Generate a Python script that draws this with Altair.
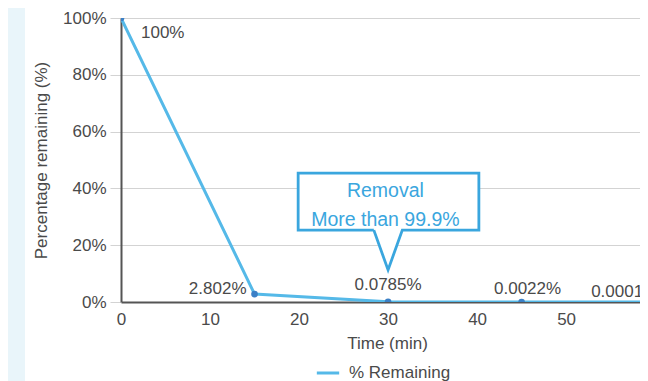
import altair as alt
import pandas as pd

# ---- data ----
times = [0, 15, 30, 45, 60]
remaining = [100, 2.802, 0.0785, 0.0022, 0.0001]
point_labels = ["100%", "2.802%", "0.0785%", "0.0022%", "0.0001%"]
series_name = "% Remaining"
y_ticks = [0, 20, 40, 60, 80, 100]
x_ticks = [0, 10, 20, 30, 40, 50, 60]
callout_lines = ["Removal", "More than 99.9%"]
callout_text_y = [39.0, 29.0]
callout_text_x = [29.7, 29.7]
# callout outline (time, percent), drawn in order
callout_x = [28.4, 19.9, 19.9, 40.2, 40.2, 31.6, 30.0, 28.4]
callout_y = [25.3, 25.3, 45.4, 45.4, 25.3, 25.3, 11.3, 25.3]

FONT = "Liberation Sans"
TXT = "#4a4a4a"
LINE_C = "#55b9e8"
PT_C = "#3b80c6"
CALL_C = "#3aa6de"

df = pd.DataFrame({"time": times, "pct": remaining, "label": point_labels,
                   "series": [series_name] * len(times)})

xs = alt.Scale(domain=[0, 58.3], nice=False, zero=False)
ys = alt.Scale(domain=[0, 100], nice=False)

x_axis = alt.Axis(values=x_ticks, grid=False, ticks=False, labelPadding=9,
                  domainColor="#555555", domainWidth=2, labelFont=FONT, labelFontSize=17,
                  labelColor=TXT, title="Time (min)", titleFont=FONT, titleFontSize=17,
                  titleFontWeight="normal", titleColor=TXT, titlePadding=8, titleX=266,
                  labelFlush=False)
y_axis = alt.Axis(values=y_ticks, labelExpr="datum.value + '%'", grid=True,
                  gridColor="#d3d3d3", gridWidth=1, tickColor="#d3d3d3", tickSize=11,
                  domainColor="#555555", domainWidth=2, labelFont=FONT, labelFontSize=17,
                  labelColor=TXT, labelPadding=4, title="Percentage remaining (%)",
                  titleFont=FONT, titleFontSize=17, titleFontWeight="normal",
                  titleColor=TXT, titlePadding=12)

X = alt.X("time:Q", scale=xs, axis=x_axis)
Y = alt.Y("pct:Q", scale=ys, axis=y_axis)
Xn = alt.X("time:Q", scale=xs)
Yn = alt.Y("pct:Q", scale=ys)

base = alt.Chart(df)

strip = base.mark_rect(color="#e9f5fa", clip=False).encode(
    x=alt.value(-113), x2=alt.value(-96), y=alt.value(-10), y2=alt.value(370))

line = base.mark_line(strokeWidth=3, clip=True).encode(
    x=X, y=Y,
    color=alt.Color("series:N", scale=alt.Scale(range=[LINE_C]),
                    legend=alt.Legend(title=None, orient="none", legendX=194, legendY=342,
                                      symbolType="stroke", symbolStrokeWidth=3,
                                      symbolSize=500, labelFont=FONT, labelFontSize=17,
                                      labelColor=TXT, labelOffset=8)))

points = base.mark_circle(size=45, color=PT_C, opacity=1, clip=True).encode(x=Xn, y=Yn)

label_styles = [("left", 20, 15), ("right", -8, -5), ("center", 0, -17),
                ("center", 6, -13), ("left", -64, -10)]
label_layers = []
for i, (al, dx, dy) in enumerate(label_styles):
    label_layers.append(
        alt.Chart(df.iloc[[i]]).mark_text(align=al, baseline="middle", dx=dx, dy=dy,
                                          font=FONT, fontSize=17, color=TXT, clip=True)
        .encode(x=Xn, y=Yn, text="label:N"))

cdf = pd.DataFrame({"time": callout_x, "pct": callout_y, "o": list(range(len(callout_x)))})
box_df = pd.DataFrame({"time": [min(callout_x)], "time2": [max(callout_x)],
                       "pct": [callout_y[0]], "pct2": [max(callout_y)]})
box_fill = alt.Chart(box_df).mark_rect(color="white").encode(
    x=Xn, x2="time2:Q", y=Yn, y2="pct2:Q")
tri_df = pd.DataFrame({"time": callout_x[5:8], "pct": [callout_y[0]] * 3,
                       "pct2": callout_y[5:8]})
tri_fill = alt.Chart(tri_df).mark_area(color="white", opacity=1).encode(
    x=Xn, y=Yn, y2="pct2:Q")
outline = alt.Chart(cdf).mark_line(color=CALL_C, strokeWidth=2.8, strokeJoin="miter").encode(
    x=Xn, y=Yn, order="o:Q")
tdf = pd.DataFrame({"time": callout_text_x, "pct": callout_text_y, "t": callout_lines})
ctext = alt.Chart(tdf).mark_text(font=FONT, fontSize=19.5, color=CALL_C, baseline="middle",
                                 align="center").encode(x=Xn, y=Yn, text="t:N")

chart = alt.layer(strip, line, points, *label_layers, box_fill, tri_fill, outline, ctext).properties(
    width=519, height=284,
    autosize=alt.AutoSizeParams(type="none"),
    padding={"left": 113, "top": 10, "right": 0, "bottom": 79},
).configure_view(stroke=None)

chart.save("out.html", embed_options={"renderer": "svg", "actions": False})
